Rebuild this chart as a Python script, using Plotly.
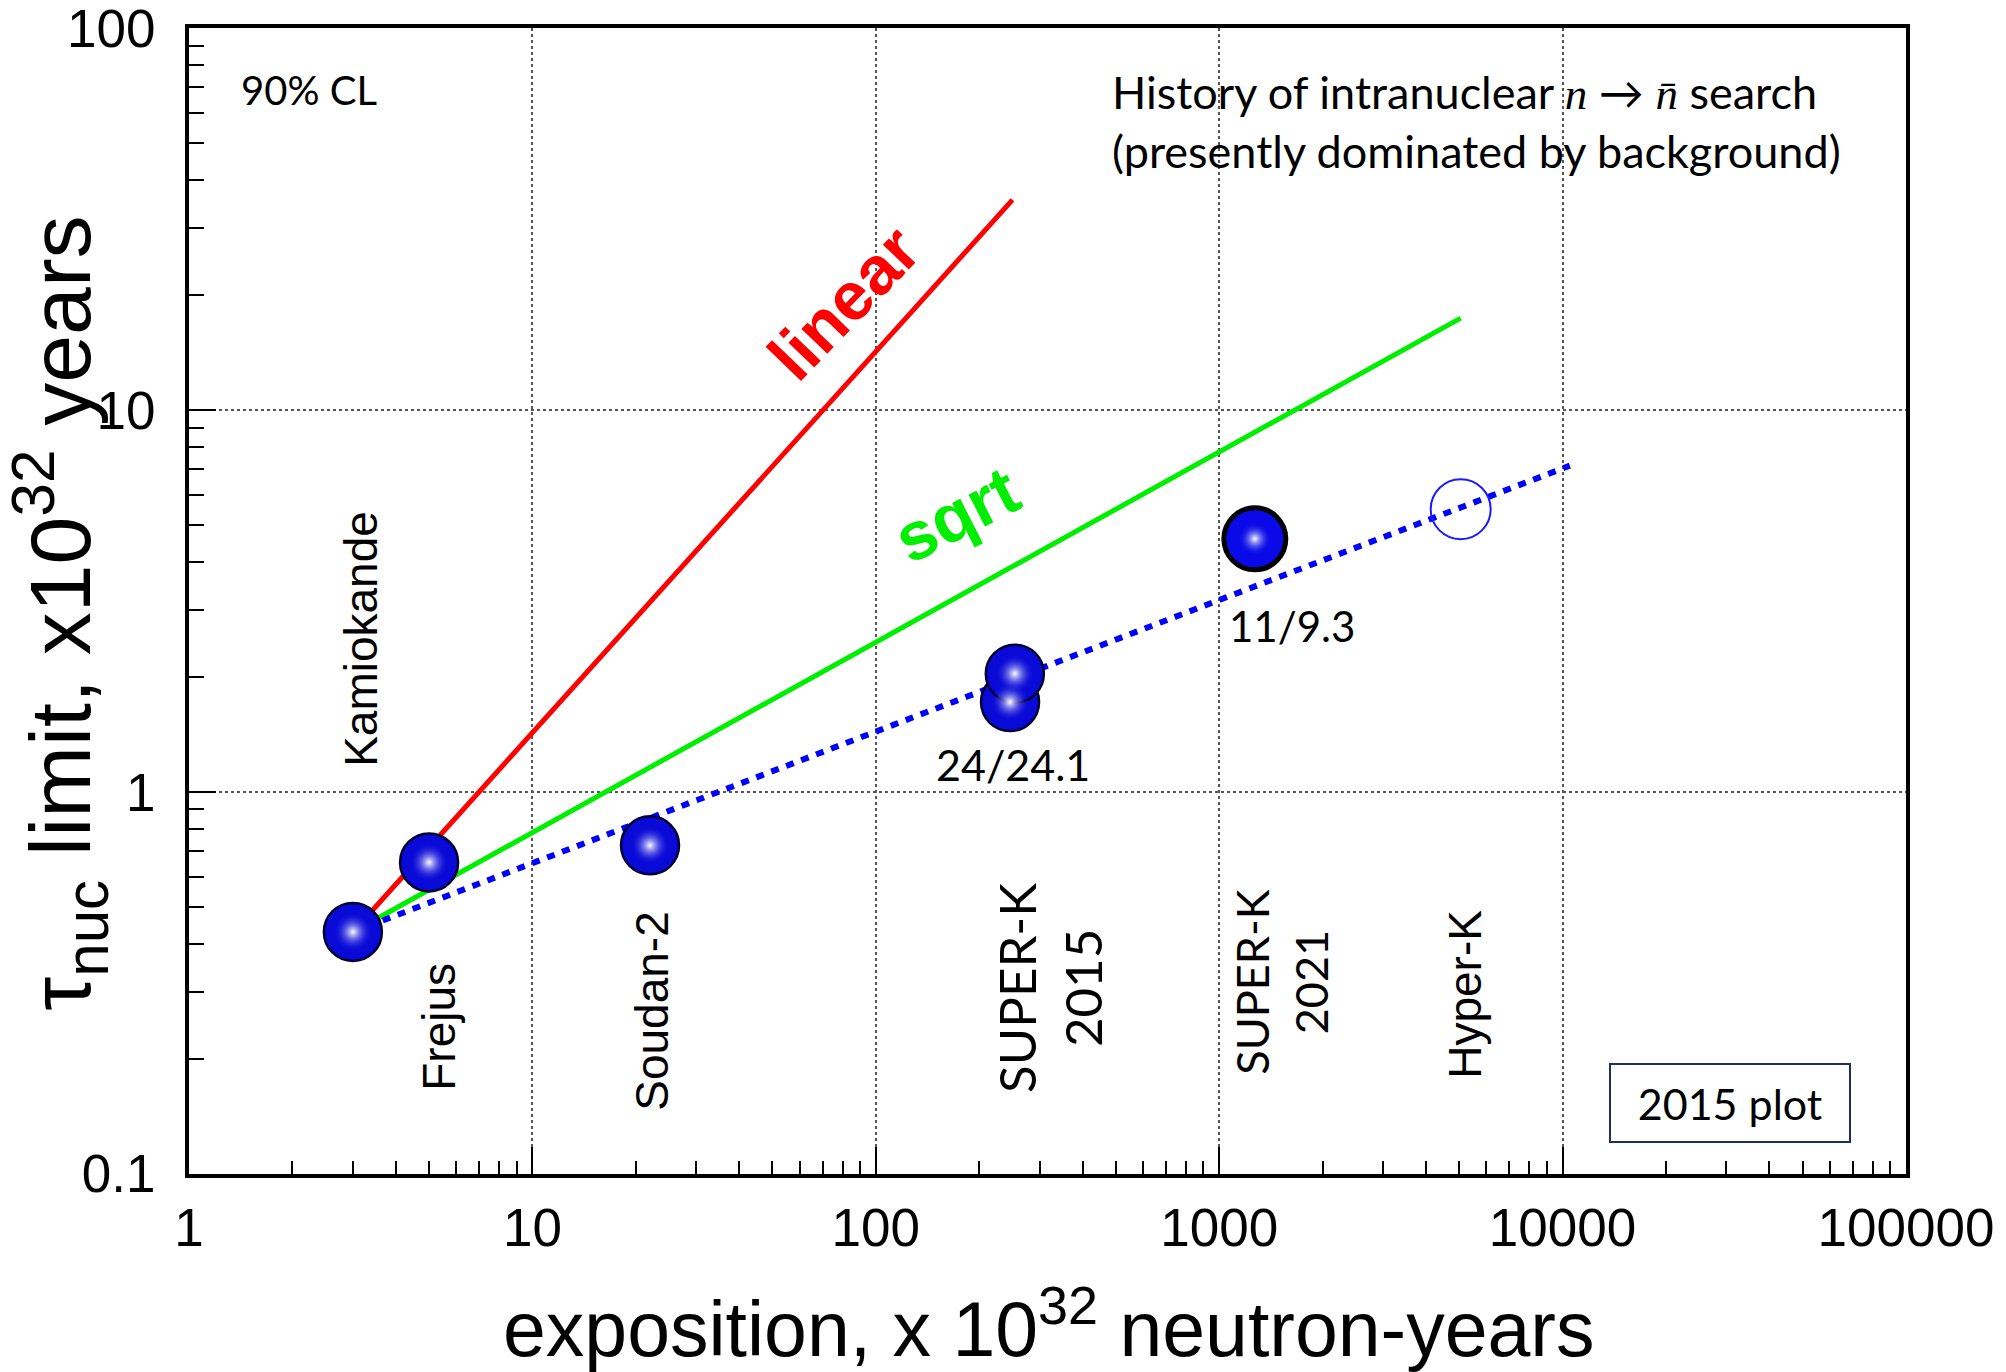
import plotly.graph_objects as go

# ---- data ----
past_x = [3.0, 5.0, 22.0, 246.0, 254.0]          # Kamiokande, Frejus, Soudan-2, SK-2015 (two)
past_y = [0.43, 0.654, 0.725, 1.72, 2.04]
sk2021_x = [1270.0]
sk2021_y = [4.6]
hyperk_x = [5050.0]
hyperk_y = [5.5]

linear_x = [3.0, 250.0]
linear_y = [0.43, 35.5]
sqrt_x = [3.0, 5050.0]
sqrt_y = [0.43, 17.4]
trend_x = [3.0, 10500.0]
trend_y = [0.43, 7.15]

x_ticks = [1, 10, 100, 1000, 10000, 100000]
x_ticktext = ["1", "10", "100", "1000", "10000", "100000"]
y_ticks = [0.1, 1, 10, 100]
y_ticktext = ["0.1", "1", "10", "100"]

x_minor = [m * 10 ** e for e in range(0, 5) for m in range(2, 10)]
y_minor = [m * 10 ** e for e in range(-1, 2) for m in range(2, 10)]

ARIAL = "Liberation Sans, Arial, sans-serif"
CAL = "Lato, Carlito, Calibri, sans-serif"

fig = go.Figure()

fig.add_trace(go.Scatter(x=linear_x, y=linear_y, mode="lines",
                         line=dict(color="#ff0000", width=5), showlegend=False))
fig.add_trace(go.Scatter(x=sqrt_x, y=sqrt_y, mode="lines",
                         line=dict(color="#00ee00", width=5), showlegend=False))
fig.add_trace(go.Scatter(x=trend_x, y=trend_y, mode="lines",
                         line=dict(color="#0000ff", width=6, dash="8px,8px"), showlegend=False))

# Hyper-K open circle
fig.add_trace(go.Scatter(x=hyperk_x, y=hyperk_y, mode="markers",
                         marker=dict(size=60, color="rgba(0,0,0,0)",
                                     line=dict(color="#1a1aff", width=2)),
                         showlegend=False))

# spheres: base + highlight
fig.add_trace(go.Scatter(x=past_x, y=past_y, mode="markers",
                         marker=dict(size=58, color="#0a0ad8",
                                     line=dict(color="#000030", width=2.5)),
                         showlegend=False))
fig.add_trace(go.Scatter(x=past_x, y=past_y, mode="markers",
                         marker=dict(size=38, color="rgba(10,10,216,0)",
                                     gradient=dict(type="radial", color="#ffffff"),
                                     line=dict(width=0)),
                         showlegend=False))
fig.add_trace(go.Scatter(x=sk2021_x, y=sk2021_y, mode="markers",
                         marker=dict(size=62, color="#0a0ae8",
                                     line=dict(color="#000000", width=5)),
                         showlegend=False))
fig.add_trace(go.Scatter(x=sk2021_x, y=sk2021_y, mode="markers",
                         marker=dict(size=32, color="rgba(10,10,232,0)",
                                     gradient=dict(type="radial", color="#ffffff"),
                                     line=dict(width=0)),
                         showlegend=False))

axis_common = dict(
    type="log", automargin=False,
    showline=True, linecolor="black", linewidth=4, mirror=True,
    showgrid=True, gridcolor="#555555", gridwidth=1.5, griddash="dot",
    zeroline=False,
    ticks="inside", ticklen=27, tickwidth=2, tickcolor="black",
    tickmode="array", ticklabeloverflow="allow",
    tickfont=dict(family=ARIAL, size=53, color="black"),
)

fig.update_xaxes(**axis_common, range=[-0.0002, 5.0002], tickvals=x_ticks, ticktext=x_ticktext,
                 ticklabelstandoff=4,
                 minor=dict(tickmode="array", tickvals=x_minor, ticks="inside",
                            ticklen=13, tickwidth=2, tickcolor="black", showgrid=False))
fig.update_yaxes(**axis_common, range=[-1.0002, 2.0002], tickvals=y_ticks, ticktext=y_ticktext,
                 ticklabelstandoff=19,
                 minor=dict(tickmode="array", tickvals=y_minor, ticks="inside",
                            ticklen=15, tickwidth=2, tickcolor="black", showgrid=False))

ann = []

def A(text, x, y, size, family, color="black", angle=0, xanchor="center", **kw):
    ann.append(dict(text=text, x=x, y=y, xref="paper", yref="paper", showarrow=False,
                    font=dict(size=size, family=family, color=color), textangle=angle,
                    xanchor=xanchor, yanchor="middle", **kw))

NSER = "<span style=\"font-family:'Liberation Serif';font-style:italic\">%s</span>"
A("90% CL", 0.0700, 0.9458, 40, CAL)
A("History of intranuclear " + NSER % "n" + " → " + NSER % "n\u0304" +
  " search<br>(presently dominated by background)",
  0.5364, 0.918, 45, CAL, xanchor="left", align="left")
A("Kamiokande", 0.1002, 0.467, 46, ARIAL, angle=-90)
A("Frejus", 0.1456, 0.1285, 46, ARIAL, angle=-90)
A("Soudan-2", 0.2697, 0.1425, 46, ARIAL, angle=-90)
A("SUPER-K<br>2015", 0.501, 0.1626, 51, CAL, angle=-90)
A("SUPER-K<br>2021", 0.6366, 0.167, 45, CAL, angle=-90)
A("Hyper-K", 0.743, 0.157, 46, ARIAL, angle=-90)
A("24/24.1", 0.4799, 0.3575, 43, CAL)
A("11/9.3", 0.6424, 0.478, 42, CAL)
A("<b>linear</b>", 0.3810, 0.7600, 68, ARIAL, color="#ff0000", angle=-46)
A("<b>sqrt</b>", 0.4470, 0.5760, 68, ARIAL, color="#00ee00", angle=-27)
A("2015 plot", 0.8975, 0.0623, 43, CAL, bordercolor="#1f3060", borderwidth=2,
  borderpad=6, width=226, height=64, bgcolor="white")
A("τ<sub>nuc</sub> limit, x10<sup>32</sup> years", -0.075, 0.489, 86, ARIAL, angle=-90)
A("exposition, x 10<sup>32</sup> neutron-years", 0.501, -0.1305, 77, ARIAL)

fig.update_layout(
    width=2006, height=1372,
    margin=dict(l=189, r=100, t=28, b=198),
    plot_bgcolor="white", paper_bgcolor="white",
    annotations=ann, showlegend=False,
)

fig.write_html("out.html", config={"displayModeBar": False},
               post_script="document.body.style.margin='0';")
